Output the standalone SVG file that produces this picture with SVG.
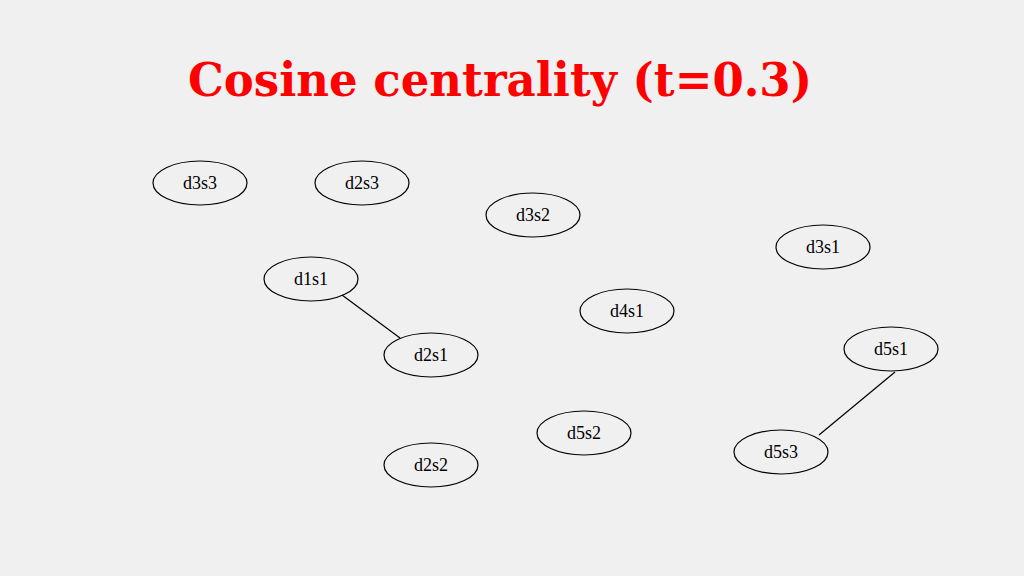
<svg xmlns="http://www.w3.org/2000/svg" width="1024" height="576" viewBox="0 0 1024 576">
<style>
.n ellipse{fill:none;stroke:#000;stroke-width:1.2}
.n text{font-family:"Liberation Serif",serif;font-size:18px;text-anchor:middle;fill:#000}
.e line{stroke:#000;stroke-width:1.2}
.title{font-family:"DejaVu Serif","Liberation Serif",serif;font-weight:bold;font-size:46px;fill:#f00;text-anchor:middle}
</style>
<rect width="1024" height="576" fill="#f0f0f0"/>
<text class="title" x="500" y="96" textLength="624" lengthAdjust="spacingAndGlyphs">Cosine centrality (t=0.3)</text>
<g class="e">
<line x1="342" y1="295" x2="400" y2="338"/>
<line x1="895" y1="372" x2="819" y2="435"/>
</g>
<g id="d3s3" class="n"><ellipse cx="200" cy="183" rx="47" ry="22"/><text x="200" y="189">d3s3</text></g>
<g id="d2s3" class="n"><ellipse cx="362" cy="183" rx="47" ry="22"/><text x="362" y="189">d2s3</text></g>
<g id="d3s2" class="n"><ellipse cx="533" cy="215" rx="47" ry="22"/><text x="533" y="221">d3s2</text></g>
<g id="d3s1" class="n"><ellipse cx="823" cy="247" rx="47" ry="22"/><text x="823" y="253">d3s1</text></g>
<g id="d1s1" class="n"><ellipse cx="311" cy="279" rx="47" ry="22"/><text x="311" y="285">d1s1</text></g>
<g id="d4s1" class="n"><ellipse cx="627" cy="311" rx="47" ry="22"/><text x="627" y="317">d4s1</text></g>
<g id="d5s1" class="n"><ellipse cx="891" cy="349" rx="47" ry="22"/><text x="891" y="355">d5s1</text></g>
<g id="d2s1" class="n"><ellipse cx="431" cy="355" rx="47" ry="22"/><text x="431" y="361">d2s1</text></g>
<g id="d5s2" class="n"><ellipse cx="584" cy="433" rx="47" ry="22"/><text x="584" y="439">d5s2</text></g>
<g id="d5s3" class="n"><ellipse cx="781" cy="452" rx="47" ry="22"/><text x="781" y="458">d5s3</text></g>
<g id="d2s2" class="n"><ellipse cx="431" cy="465" rx="47" ry="22"/><text x="431" y="471">d2s2</text></g>
</svg>
